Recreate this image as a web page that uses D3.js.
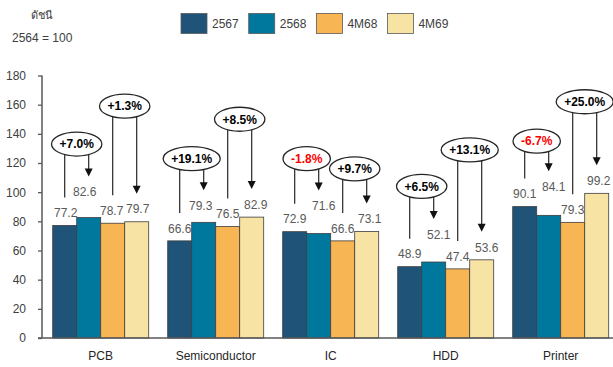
<!DOCTYPE html>
<html>
<head>
<meta charset="utf-8">
<script src="https://cdn.jsdelivr.net/npm/d3@7"></script>
<style>
  html, body { margin: 0; padding: 0; background: #fff; }
  svg { display: block; font-family: "Liberation Sans", Arial, sans-serif; }
</style>
</head>
<body>
<svg id="chart" width="613" height="367"></svg>
<script>
// ---- data ----
const categories = ["PCB", "Semiconductor", "IC", "HDD", "Printer"];
const seriesNames = ["2567", "2568", "4M68", "4M69"];
const values2567 = [77.2, 66.6, 72.9, 48.9, 90.1];
const values2568 = [82.6, 79.3, 71.6, 52.1, 84.1];
const values4M68 = [78.7, 76.5, 66.6, 47.4, 79.3];
const values4M69 = [79.7, 82.9, 73.1, 53.6, 99.2];
const yTicks = [0, 20, 40, 60, 80, 100, 120, 140, 160, 180];
// growth callouts: full year (2567 -> 2568) and first four months (4M68 -> 4M69)
const growthYear = ["+7.0%", "+19.1%", "-1.8%", "+6.5%", "-6.7%"];
const growth4M = ["+1.3%", "+8.5%", "+9.7%", "+13.1%", "+25.0%"];

// ---- layout / styling ----
const colors = ["#1F5478", "#00789E", "#F7B554", "#F7E3A3"];
const series = [values2567, values2568, values4M68, values4M69];
// callout bubble heights, in index units
const levelYear = [133, 123, 123, 104, 135];
const level4M = [159, 150, 116, 129, 162];
// extra lift (px) and horizontal nudge (px) of value labels, per series
const labelLift = [
  [0, 0, 0, 0, 0],
  [13, 4, 15, 15, 16],
  [0, 0, 0, 0, 0],
  [0, 0, 0, 0, 0]
];
const labelShift = [
  [1, 0, 0, 0, 0],
  [-4, -3, 5, 5, 5],
  [-1, 0, 0, 0, 0],
  [1, 4, 3, 5, 2]
];

const svg = d3.select("#chart");

const x0 = d3.scaleBand().domain(categories).range([43.2, 618.2])
  .paddingInner(19 / 115).paddingOuter(19 / 230);
const x1 = d3.scaleBand().domain(seriesNames).range([0, x0.bandwidth()]);
const y = d3.scaleLinear().domain([0, 180]).range([338, 75.5]);

// y axis
const yAxis = svg.append("g").attr("transform", "translate(42,0)")
  .call(d3.axisLeft(y).tickValues(yTicks).tickSize(4).tickPadding(12));
yAxis.select(".domain").attr("stroke", "#595959").attr("stroke-width", 1.5).attr("d", `M0,${y(180)}V${y(0)}`);
yAxis.selectAll(".tick line").attr("stroke", "#595959").attr("stroke-width", 1.3);
yAxis.selectAll(".tick text").attr("fill", "#404040").style("font-size", "12px")
  .style("font-family", "'Liberation Sans', Arial, sans-serif");

// bars
const barTop = (s, c) => y(series[s][c]);
const barCx = (s, c) => x0(categories[c]) + x1(seriesNames[s]) + x1.bandwidth() / 2;

series.forEach((vals, s) => {
  svg.append("g").selectAll("rect").data(vals).join("rect")
    .attr("x", (d, c) => x0(categories[c]) + x1(seriesNames[s]))
    .attr("y", d => y(d))
    .attr("width", x1.bandwidth())
    .attr("height", d => y(0) - y(d))
    .attr("fill", colors[s])
    .attr("stroke", "#3d3d3d")
    .attr("stroke-width", 0.8);
});

// x axis baseline and category labels
svg.append("line").attr("x1", 38).attr("x2", 613).attr("y1", y(0)).attr("y2", y(0))
  .attr("stroke", "#595959").attr("stroke-width", 1.5);
svg.append("g").selectAll("text").data(categories).join("text")
  .attr("x", d => x0(d) + x0.bandwidth() / 2)
  .attr("y", 356).attr("dy", "0.35em")
  .attr("text-anchor", "middle").attr("fill", "#262626").style("font-size", "12px")
  .text(d => d);

// value labels
const labelY = (s, c) => barTop(s, c) - 12.5 - labelLift[s][c];
series.forEach((vals, s) => {
  svg.append("g").selectAll("text").data(vals).join("text")
    .attr("x", (d, c) => barCx(s, c) + labelShift[s][c])
    .attr("y", (d, c) => labelY(s, c)).attr("dy", "0.35em")
    .attr("text-anchor", "middle").attr("fill", "#595959").style("font-size", "12px")
    .text(d => d.toFixed(1));
});

// growth callouts: bubble with a leader from the base bar and an arrow to the later bar
function callout(c, sFrom, sTo, text, level) {
  const g = svg.append("g");
  const xa = barCx(sFrom, c), xb = barCx(sTo, c);
  const cx = (xa + xb) / 2, cy = y(level);
  const t = g.append("text").attr("x", cx).attr("y", cy).attr("dy", "0.36em")
    .attr("text-anchor", "middle").style("font-size", "12px").style("font-weight", "bold")
    .attr("fill", text.startsWith("-") ? "#FF0000" : "#000").text(text);
  const rx = (t.node().getComputedTextLength() + 16) / 2, ry = 12;
  const edge = xx => cy + ry * Math.sqrt(Math.max(0, 1 - ((xx - cx) / rx) ** 2));
  const endA = labelY(sFrom, c) - 15.5, endB = labelY(sTo, c) - 15.5;
  g.append("line").attr("x1", xa).attr("x2", xa).attr("y1", edge(xa)).attr("y2", endA)
    .attr("stroke", "#262626").attr("stroke-width", 1.2);
  g.append("line").attr("x1", xb).attr("x2", xb).attr("y1", edge(xb)).attr("y2", endB - 6)
    .attr("stroke", "#262626").attr("stroke-width", 1.2);
  g.append("path").attr("d", `M${xb - 4},${endB - 8}L${xb + 4},${endB - 8}L${xb},${endB}Z`)
    .attr("fill", "#111");
  g.insert("ellipse", "text").attr("cx", cx).attr("cy", cy).attr("rx", rx).attr("ry", ry)
    .attr("fill", "#fff").attr("stroke", "#262626").attr("stroke-width", 1.3);
}
categories.forEach((cat, c) => {
  callout(c, 0, 1, growthYear[c], levelYear[c]);
  callout(c, 2, 3, growth4M[c], level4M[c]);
});

// legend
let lx = 181;
seriesNames.forEach((name, s) => {
  svg.append("rect").attr("x", lx).attr("y", 13.5).attr("width", 26).attr("height", 20)
    .attr("fill", colors[s]).attr("stroke", "#595959").attr("stroke-width", 0.8);
  const t = svg.append("text").attr("x", lx + 31).attr("y", 24).attr("dy", "0.35em")
    .attr("fill", "#404040").style("font-size", "12px").text(name);
  lx += 26 + 5 + t.node().getComputedTextLength() + 10;
});

// index note
svg.append("text").attr("x", 42).attr("y", 15).attr("dy", "0.35em").attr("text-anchor", "middle")
  .attr("fill", "#404040").style("font-size", "11px").text("ดัชนี");
svg.append("text").attr("x", 12).attr("y", 38).attr("dy", "0.35em")
  .attr("fill", "#404040").style("font-size", "12px").text("2564 = 100");
</script>
</body>
</html>
